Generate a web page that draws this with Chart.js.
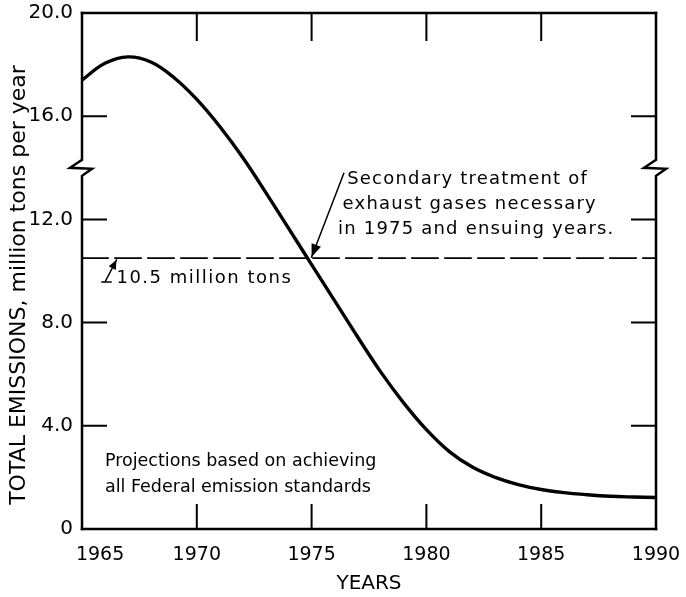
<!DOCTYPE html>
<html>
<head>
<meta charset="utf-8">
<script src="https://cdn.jsdelivr.net/npm/chart.js@4/dist/chart.umd.min.js"></script>
<style>
html,body{margin:0;padding:0;background:#fff;}
#wrap{width:686px;height:597px;position:relative;}
</style>
</head>
<body>
<div id="wrap"><canvas id="c" width="686" height="597"></canvas></div>
<script>
// ---- data ----
const years = [1965,1966,1967,1968,1969,1970,1971,1972,1973,1974,1975,1976,1977,1978,1979,1980,1981,1982,1983,1984,1985,1986,1987,1988,1989,1990];
const emissions = [17.4,18.05,18.3,18.1,17.5,16.65,15.6,14.4,13.05,11.65,10.25,8.85,7.45,6.1,4.9,3.85,3.0,2.4,2.0,1.72,1.53,1.41,1.33,1.27,1.24,1.22];
const xTicks = [1965,1970,1975,1980,1985,1990];
const xTickLabels = ['\u00a0\u00a0\u00a0\u00a0\u00a0\u00a01965','1970','1975','1980','1985','1990'];
const yTicks = [0,4,8,12,16,20];
const yTickLabels = ['0','4.0','8.0','12.0','16.0','20.0'];
const thresholdValue = 10.5;
const breakValue = 14;
const thresholdLabel = '10.5 million tons';
const noteTreatment = ['Secondary treatment of','exhaust gases necessary','in 1975 and ensuing years.'];
const noteProjection = ['Projections based on achieving','all Federal emission standards'];
const xTitle = 'YEARS';
const yTitle = 'TOTAL EMISSIONS, million tons per year\u00a0\u00a0\u00a0\u00a0';

const FONT = '"DejaVu Sans", sans-serif';

function arrowHead(ctx, x0, y0, x1, y1, len, half) {
  const ang = Math.atan2(y1 - y0, x1 - x0);
  ctx.beginPath();
  ctx.moveTo(x1, y1);
  ctx.lineTo(x1 - len * Math.cos(ang) + half * Math.sin(ang), y1 - len * Math.sin(ang) - half * Math.cos(ang));
  ctx.lineTo(x1 - len * Math.cos(ang) - half * Math.sin(ang), y1 - len * Math.sin(ang) + half * Math.cos(ang));
  ctx.closePath();
  ctx.fill();
}

const framePlugin = {
  id: 'frame',
  afterDatasetsDraw(chart) {
    const ctx = chart.ctx;
    const a = chart.chartArea;
    const xs = chart.scales.x, ys = chart.scales.y;
    const L = a.left, R = a.right, T = a.top, B = a.bottom;
    const yb = ys.getPixelForValue(breakValue);
    ctx.save();
    ctx.strokeStyle = '#000';
    ctx.fillStyle = '#000';
    ctx.lineCap = 'square';
    ctx.lineJoin = 'miter';
    ctx.lineWidth = 2.5;
    ctx.beginPath();
    ctx.moveTo(L, T); ctx.lineTo(R, T);
    ctx.moveTo(L, B); ctx.lineTo(R, B);
    ctx.stroke();
    function sideWithBreak(x) {
      ctx.beginPath();
      ctx.moveTo(x, T);
      ctx.lineTo(x, yb - 8);
      ctx.lineTo(x - 12, yb);
      ctx.lineTo(x + 10, yb + 1);
      ctx.lineTo(x, yb + 8);
      ctx.lineTo(x, B);
      ctx.stroke();
    }
    sideWithBreak(L);
    sideWithBreak(R);
    ctx.lineWidth = 2;
    const tl = 24;
    ctx.beginPath();
    yTicks.forEach(v => {
      if (v === 0 || v === 20) return;
      const y = ys.getPixelForValue(v);
      ctx.moveTo(L, y); ctx.lineTo(L + tl, y);
      ctx.moveTo(R, y); ctx.lineTo(R - tl, y);
    });
    xTicks.forEach(v => {
      if (v === 1965 || v === 1990) return;
      const x = xs.getPixelForValue(v);
      ctx.moveTo(x, B); ctx.lineTo(x, B - tl);
      ctx.moveTo(x, T); ctx.lineTo(x, T + tl + 3);
    });
    ctx.stroke();

    // threshold dashed line
    const yt = ys.getPixelForValue(thresholdValue);
    ctx.lineWidth = 1.6;
    ctx.setLineDash([26, 7]);
    ctx.beginPath();
    ctx.moveTo(L, yt); ctx.lineTo(R, yt);
    ctx.stroke();
    ctx.setLineDash([]);

    ctx.textAlign = 'left';
    ctx.textBaseline = 'middle';
    // threshold label + arrow
    ctx.font = '18px ' + FONT;
    ctx.letterSpacing = '1.5px';
    const lx = xs.getPixelForValue(1966.5);
    ctx.fillText(thresholdLabel, lx, yt + 20);
    const ax0 = xs.getPixelForValue(1966.0), ay0 = yt + 24;
    const ax1 = xs.getPixelForValue(1966.5), ay1 = yt + 2;
    ctx.lineWidth = 1.5;
    ctx.beginPath();
    ctx.moveTo(ax0 - 3, ay0); ctx.lineTo(ax0 + 6, ay0);
    ctx.moveTo(ax0, ay0); ctx.lineTo(ax1, ay1);
    ctx.stroke();
    arrowHead(ctx, ax0, ay0, ax1, ay1, 9, 4);

    // treatment note
    ctx.letterSpacing = '1.2px';
    const tx = [xs.getPixelForValue(1976.55), xs.getPixelForValue(1976.35), xs.getPixelForValue(1976.15)];
    const ty0 = ys.getPixelForValue(13.55);
    noteTreatment.forEach((s, i) => ctx.fillText(s, tx[i], ty0 + i * 25));
    const bx0 = xs.getPixelForValue(1976.4), by0 = ty0 - 6;
    const bx1 = xs.getPixelForValue(1975.0), by1 = yt - 1;
    ctx.lineWidth = 1.5;
    ctx.beginPath();
    ctx.moveTo(bx0, by0); ctx.lineTo(bx1, by1);
    ctx.stroke();
    arrowHead(ctx, bx0, by0, bx1, by1, 13, 5);

    // projection note
    ctx.letterSpacing = '0px';
    ctx.font = '17.5px ' + FONT;
    const px = xs.getPixelForValue(1966.0);
    const py = ys.getPixelForValue(2.6);
    noteProjection.forEach((s, i) => ctx.fillText(s, px, py + i * 26));
    ctx.restore();
  }
};

new Chart(document.getElementById('c'), {
  type: 'line',
  data: {
    datasets: [{
      data: years.map((y, i) => ({x: y, y: emissions[i]})),
      borderColor: '#000',
      borderWidth: 3.4,
      pointRadius: 0,
      tension: 0.4,
      fill: false
    }]
  },
  options: {
    responsive: false,
    animation: false,
    events: [],
    layout: { padding: { top: 13, right: 30, left: 0, bottom: 0 } },
    plugins: { legend: { display: false }, tooltip: { enabled: false } },
    scales: {
      x: {
        type: 'linear', min: 1965, max: 1990,
        afterFit(s) { s.height = 68; s.paddingLeft = 0; s.paddingRight = 0; },
        afterBuildTicks(s) { s.ticks = xTicks.map(v => ({value: v})); },
        grid: { display: false, drawTicks: false },
        border: { display: false },
        ticks: { color: '#000', padding: 15, font: { family: FONT, size: 19 }, callback: v => xTickLabels[xTicks.indexOf(v)], maxRotation: 0, autoSkip: false },
        title: { display: true, text: xTitle, color: '#000', font: { family: FONT, size: 20 }, padding: { top: 0, bottom: 1 } }
      },
      y: {
        type: 'linear', min: 0, max: 20,
        afterFit(s) { s.width = 82; s.paddingTop = 0; s.paddingBottom = 0; },
        afterBuildTicks(s) { s.ticks = yTicks.map(v => ({value: v})); },
        grid: { display: false, drawTicks: false },
        border: { display: false },
        ticks: { color: '#000', padding: 9, font: { family: FONT, size: 20 }, callback: (v) => yTickLabels[yTicks.indexOf(v)] },
        title: { display: true, text: yTitle, color: '#000', font: { family: FONT, size: 22 }, padding: { top: 6, bottom: 0 } }
      }
    }
  },
  plugins: [framePlugin]
});
</script>
</body>
</html>
